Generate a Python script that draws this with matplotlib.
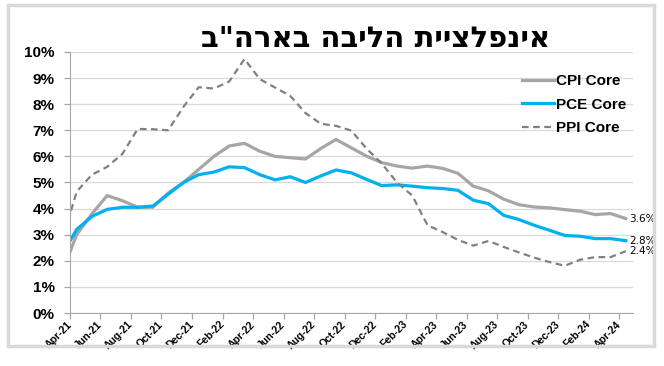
import numpy as np
import matplotlib
matplotlib.use("Agg")
import matplotlib.pyplot as plt
import matplotlib.transforms as mtransforms
from matplotlib.patches import FancyBboxPatch

plt.rcParams['font.family'] = ['Liberation Sans', 'DejaVu Sans']

title = 'אינפלציית הליבה בארה"ב'

# monthly, Mar-21 .. Apr-24 (Mar-21 only shows as the line entering the axis)
cpi_core = [1.5, 3.0, 3.8, 4.5, 4.3, 4.05, 4.05, 4.6, 5.0, 5.5, 6.0, 6.4, 6.5,
            6.2, 6.0, 5.95, 5.9, 6.3, 6.65, 6.33, 6.01, 5.76, 5.63, 5.55, 5.63,
            5.54, 5.35, 4.86, 4.68, 4.36, 4.15, 4.06, 4.03, 3.96, 3.9, 3.77,
            3.81, 3.62]
pce_core = [2.2, 3.2, 3.7, 3.97, 4.05, 4.05, 4.1, 4.55, 5.0, 5.3, 5.4, 5.6, 5.57,
            5.3, 5.1, 5.22, 5.0, 5.25, 5.48, 5.37, 5.12, 4.88, 4.91, 4.86, 4.8,
            4.77, 4.7, 4.32, 4.19, 3.74, 3.58, 3.36, 3.17, 2.97, 2.94, 2.85,
            2.85, 2.77]
ppi_core = [2.7, 4.65, 5.3, 5.6, 6.1, 7.05, 7.04, 7.0, 7.9, 8.65, 8.6, 8.87, 9.73,
            8.96, 8.64, 8.32, 7.66, 7.25, 7.17, 6.99, 6.3, 5.73, 5.0, 4.5, 3.36,
            3.1, 2.8, 2.58, 2.76, 2.53, 2.32, 2.12, 1.95, 1.81, 2.04, 2.14,
            2.14, 2.37]
end_labels = ['3.6%', '2.8%', '2.4%']
tick_labels = ['Apr-21', 'Jun-21', 'Aug-21', 'Oct-21', 'Dec-21', 'Feb-22',
               'Apr-22', 'Jun-22', 'Aug-22', 'Oct-22', 'Dec-22', 'Feb-23',
               'Apr-23', 'Jun-23', 'Aug-23', 'Oct-23', 'Dec-23', 'Feb-24',
               'Apr-24']

# points sit at month end, ticks at month start
x = np.arange(len(cpi_core)) - 1 + 0.44

fig = plt.figure(figsize=(6.64, 3.66), dpi=100)
ax = fig.add_axes([0.1054, 0.1448, 0.953 - 0.1054, 0.858 - 0.1448])

grid_c = '#d9d9d9'
axis_c = '#a6a6a6'

ax.plot(x, cpi_core, color='#a6a6a6', lw=2.3, label='CPI Core')
ax.plot(x, pce_core, color='#00b0f0', lw=2.3, label='PCE Core')
ax.plot(x, ppi_core, color='#808080', lw=1.6, ls=(0, (3, 2)), label='PPI Core')

for vals, lab in zip([cpi_core, pce_core, ppi_core], end_labels):
    ax.text(x[-1] + 0.2, vals[-1], lab, fontsize=7.5, va='center', ha='left',
            family=['DejaVu Sans'], clip_on=False)

ax.set_xlim(0, 36.9)
ax.set_ylim(0, 10)
ax.set_yticks(np.arange(0, 11, 1))
ax.set_yticklabels([f'{v}%' for v in range(11)], fontsize=11, fontweight='bold')
ax.set_xticks(np.arange(0, 37, 2))
ax.set_xticklabels(tick_labels, rotation=45, ha='right', va='center',
                   rotation_mode='anchor', fontsize=7.5, fontweight='bold',
                   family=['Liberation Sans Narrow', 'Liberation Sans'])
shift = mtransforms.ScaledTranslation(4 / 72, -4 / 72, fig.dpi_scale_trans)
for lbl in ax.get_xticklabels():
    lbl.set_transform(lbl.get_transform() + shift)
ax.grid(axis='y', color=grid_c, lw=0.9)
ax.set_axisbelow(True)
for s in ['top', 'right']:
    ax.spines[s].set_visible(False)
ax.spines['left'].set_color(axis_c)
ax.spines['bottom'].set_color(axis_c)
ax.tick_params(axis='both', color=axis_c, length=4, width=0.9)
ax.tick_params(axis='x', pad=3)
ax.tick_params(axis='y', pad=7)

fig.text(0.565, 0.893, title[::-1], fontsize=21, fontweight='bold',
         family=['DejaVu Sans'], ha='center', va='center')

fig.legend(loc='upper left', bbox_to_anchor=(0.786, 0.797), frameon=False,
           borderpad=0, borderaxespad=0, handlelength=2.1, handletextpad=0.15,
           labelspacing=0.62, prop={'size': 11, 'weight': 'bold'})

fig.patches.append(FancyBboxPatch((0.012, 0.055), 0.973, 0.932,
                                  boxstyle='square,pad=0', transform=fig.transFigure,
                                  fill=False, edgecolor='#d9d9d9', lw=2.5))

fig.savefig('out.png', dpi=100)
